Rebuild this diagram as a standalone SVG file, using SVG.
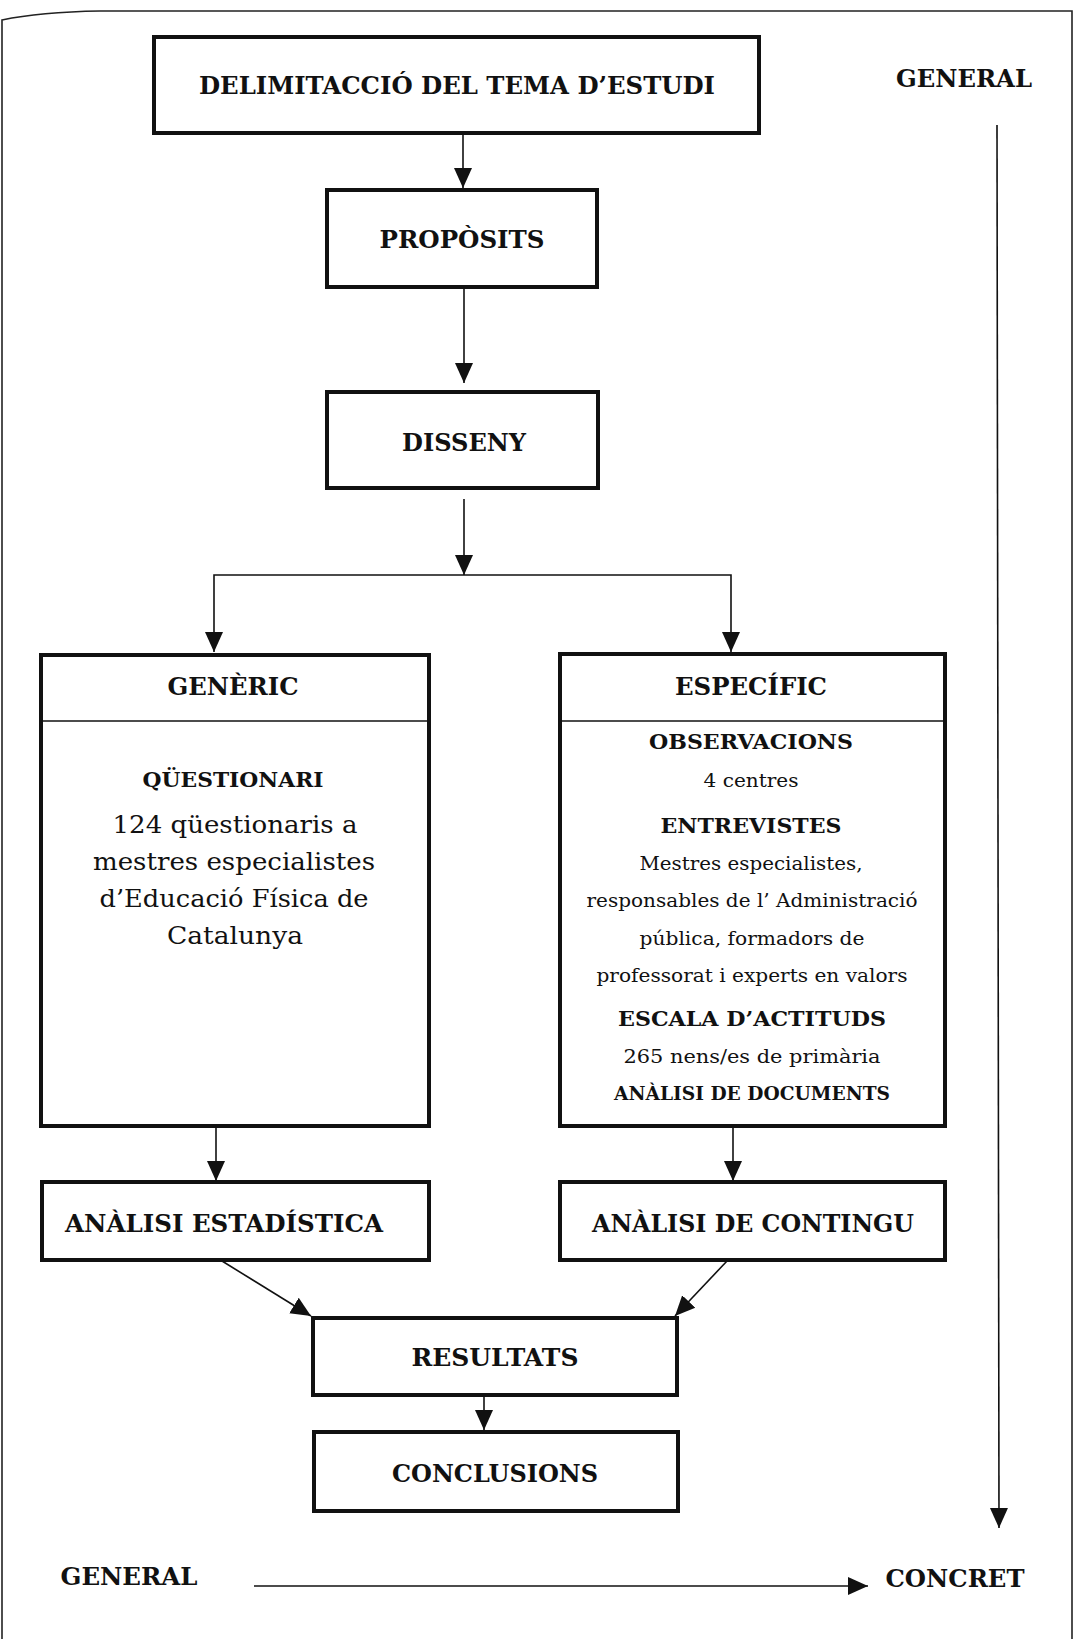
<svg xmlns="http://www.w3.org/2000/svg" width="1074" height="1639" viewBox="0 0 1074 1639">
<defs>
<style>
.box{fill:#fff;stroke:#111;stroke-width:4}
.sep{stroke:#111;stroke-width:1.5;fill:none}
.con{stroke:#111;stroke-width:1.6;fill:none}
.t{font-family:"DejaVu Serif","Liberation Serif",serif;font-weight:bold;fill:#111;text-anchor:middle}
.b{font-family:"DejaVu Serif","Liberation Serif",serif;fill:#111;text-anchor:middle}
</style>
<marker id="ah" markerUnits="userSpaceOnUse" markerWidth="21" markerHeight="20" refX="20" refY="10" orient="auto">
<path d="M0,1 L20,10 L0,19 z" fill="#111"/>
</marker>
</defs>
<rect width="1074" height="1639" fill="#fff"/>
<path d="M2,1639 V20 Q40,12 100,11 H1072 V1639" fill="none" stroke="#222" stroke-width="1.6"/>

<g id="n-delimitaccio">
<rect class="box" x="154" y="37" width="605" height="96"/>
<text class="t" x="457" y="94" font-size="25" textLength="516" lengthAdjust="spacingAndGlyphs">DELIMITACCIÓ DEL TEMA D’ESTUDI</text>
</g>
<g id="n-proposits">
<rect class="box" x="327" y="190" width="270" height="97"/>
<text class="t" x="462" y="248" font-size="25" textLength="165" lengthAdjust="spacingAndGlyphs">PROPÒSITS</text>
</g>
<g id="n-disseny">
<rect class="box" x="327" y="392" width="271" height="96"/>
<text class="t" x="464" y="451" font-size="25" textLength="124" lengthAdjust="spacingAndGlyphs">DISSENY</text>
</g>
<g id="n-generic">
<rect class="box" x="41" y="655" width="388" height="471"/>
<line class="sep" x1="41" y1="721" x2="429" y2="721"/>
<text class="t" x="233" y="695" font-size="24" textLength="131" lengthAdjust="spacingAndGlyphs">GENÈRIC</text>
<text class="t" x="233" y="787" font-size="21" textLength="181" lengthAdjust="spacingAndGlyphs">QÜESTIONARI</text>
<text class="b" x="235" y="833" font-size="25" textLength="245" lengthAdjust="spacingAndGlyphs">124 qüestionaris a</text>
<text class="b" x="234" y="870" font-size="25" textLength="282" lengthAdjust="spacingAndGlyphs">mestres especialistes</text>
<text class="b" x="234" y="907" font-size="25" textLength="269" lengthAdjust="spacingAndGlyphs">d’Educació Física de</text>
<text class="b" x="235" y="944" font-size="25" textLength="136" lengthAdjust="spacingAndGlyphs">Catalunya</text>
</g>
<g id="n-especific">
<rect class="box" x="560" y="654" width="385" height="472"/>
<line class="sep" x1="560" y1="721" x2="945" y2="721"/>
<text class="t" x="751" y="695" font-size="24" textLength="152" lengthAdjust="spacingAndGlyphs">ESPECÍFIC</text>
<text class="t" x="751" y="749" font-size="21" textLength="204" lengthAdjust="spacingAndGlyphs">OBSERVACIONS</text>
<text class="b" x="751" y="787" font-size="19" textLength="95" lengthAdjust="spacingAndGlyphs">4 centres</text>
<text class="t" x="751" y="833" font-size="21" textLength="181" lengthAdjust="spacingAndGlyphs">ENTREVISTES</text>
<text class="b" x="751" y="870" font-size="19" textLength="223" lengthAdjust="spacingAndGlyphs">Mestres especialistes,</text>
<text class="b" x="752" y="907" font-size="19" textLength="331" lengthAdjust="spacingAndGlyphs">responsables de l’ Administració</text>
<text class="b" x="752" y="945" font-size="19" textLength="225" lengthAdjust="spacingAndGlyphs">pública, formadors de</text>
<text class="b" x="752" y="982" font-size="19" textLength="311" lengthAdjust="spacingAndGlyphs">professorat i experts en valors</text>
<text class="t" x="752" y="1026" font-size="21" textLength="268" lengthAdjust="spacingAndGlyphs">ESCALA D’ACTITUDS</text>
<text class="b" x="752" y="1063" font-size="19" textLength="257" lengthAdjust="spacingAndGlyphs">265 nens/es de primària</text>
<text class="t" x="752" y="1100" font-size="19" textLength="276" lengthAdjust="spacingAndGlyphs">ANÀLISI DE DOCUMENTS</text>
</g>
<g id="n-analisi-estadistica">
<rect class="box" x="42" y="1182" width="387" height="78"/>
<text class="t" x="224" y="1232" font-size="24" textLength="318" lengthAdjust="spacingAndGlyphs">ANÀLISI ESTADÍSTICA</text>
</g>
<g id="n-analisi-contingu">
<rect class="box" x="560" y="1182" width="385" height="78"/>
<text class="t" x="753" y="1232" font-size="24" textLength="322" lengthAdjust="spacingAndGlyphs">ANÀLISI DE CONTINGU</text>
</g>
<g id="n-resultats">
<rect class="box" x="313" y="1318" width="364" height="77"/>
<text class="t" x="495" y="1366" font-size="24" textLength="167" lengthAdjust="spacingAndGlyphs">RESULTATS</text>
</g>
<g id="n-conclusions">
<rect class="box" x="314" y="1432" width="364" height="79"/>
<text class="t" x="495" y="1482" font-size="24" textLength="206" lengthAdjust="spacingAndGlyphs">CONCLUSIONS</text>
</g>
<g id="n-labels">
<text class="t" x="964" y="87" font-size="25" textLength="136" lengthAdjust="spacingAndGlyphs">GENERAL</text>
<text class="t" x="129" y="1585" font-size="25" textLength="137" lengthAdjust="spacingAndGlyphs">GENERAL</text>
<text class="t" x="955" y="1587" font-size="25" textLength="139" lengthAdjust="spacingAndGlyphs">CONCRET</text>
</g>

<g id="connectors">
<path class="con" d="M463,133 V188" marker-end="url(#ah)"/>
<path class="con" d="M464,287 V383" marker-end="url(#ah)"/>
<path class="con" d="M464,499 V575" marker-end="url(#ah)"/>
<path class="con" d="M464,575 H214 V652" marker-end="url(#ah)"/>
<path class="con" d="M464,575 H731 V652" marker-end="url(#ah)"/>
<path class="con" d="M216,1126 V1181" marker-end="url(#ah)"/>
<path class="con" d="M733,1126 V1181" marker-end="url(#ah)"/>
<path class="con" d="M222,1261 L311,1316" marker-end="url(#ah)"/>
<path class="con" d="M727,1261 L675,1316" marker-end="url(#ah)"/>
<path class="con" d="M484,1395 V1430" marker-end="url(#ah)"/>
<path class="con" d="M997,125 L999,1528" marker-end="url(#ah)"/>
<path class="con" d="M254,1586 H868" marker-end="url(#ah)"/>
</g>
</svg>
